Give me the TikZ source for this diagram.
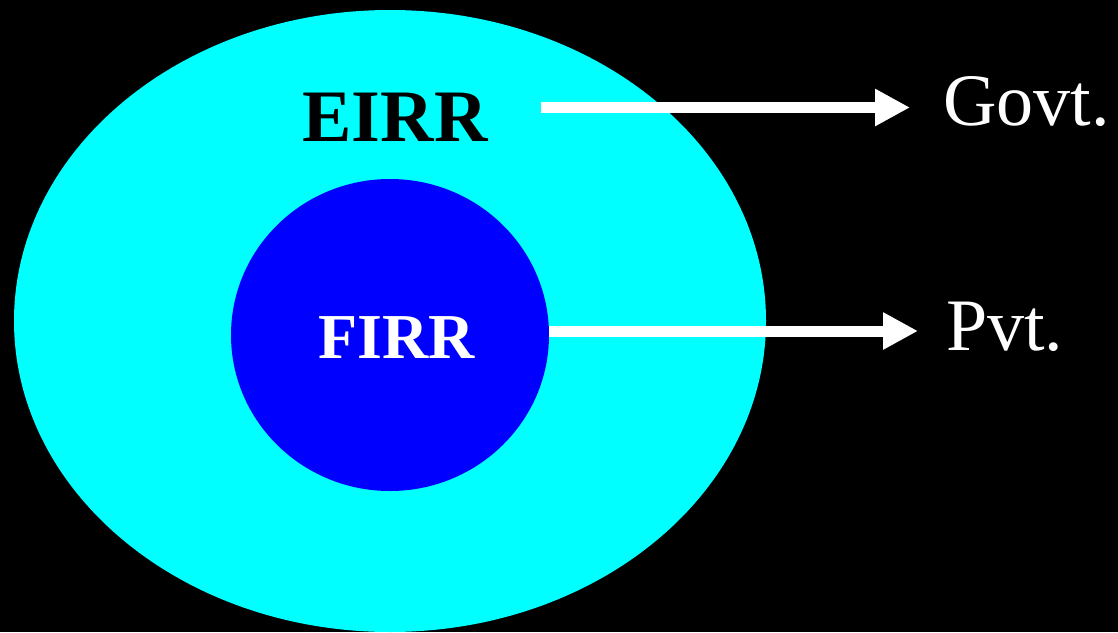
\documentclass[tikz,border=0pt]{standalone}
\usepackage{fontspec}
\setmainfont{Liberation Serif}
\usetikzlibrary{arrows.meta}
\definecolor{aqua}{RGB}{0,255,255}
\definecolor{pureblue}{RGB}{0,0,255}
\begin{document}
\begin{tikzpicture}[x=1pt,y=-1pt,
  lbl/.style={inner sep=0pt,anchor=base,font=\fontsize{74}{80}\selectfont\bfseries},
  side/.style={inner sep=0pt,anchor=base west,text=white,font=\fontsize{74}{80}\selectfont},
  arr/.style={draw=white,line width=11pt,-{Triangle[length=35pt,width=35pt]}}]
\fill[black] (0,0) rectangle (1118,632);
\useasboundingbox (0,0) rectangle (1118,632);
\fill[aqua] (390,321) ellipse [x radius=376, y radius=311];
\fill[pureblue] (390,335) ellipse [x radius=159, y radius=156];
\node[lbl,text=black] (eirr) at (395,141) {EIRR};
\node[lbl,text=white,font=\fontsize{64}{70}\selectfont\bfseries] (firr) at (396.5,358) {FIRR};
\node[side] (govt) at (943,125) {Govt.};
\node[side] (pvt) at (946,350) {Pvt.};
\coordinate (gs) at (541,107.5);
\coordinate (ge) at (910,107.5);
\coordinate (ps) at (549,331);
\coordinate (pe) at (918,331);
\draw[arr] (gs) -- (ge);
\draw[arr] (ps) -- (pe);
\end{tikzpicture}
\end{document}
